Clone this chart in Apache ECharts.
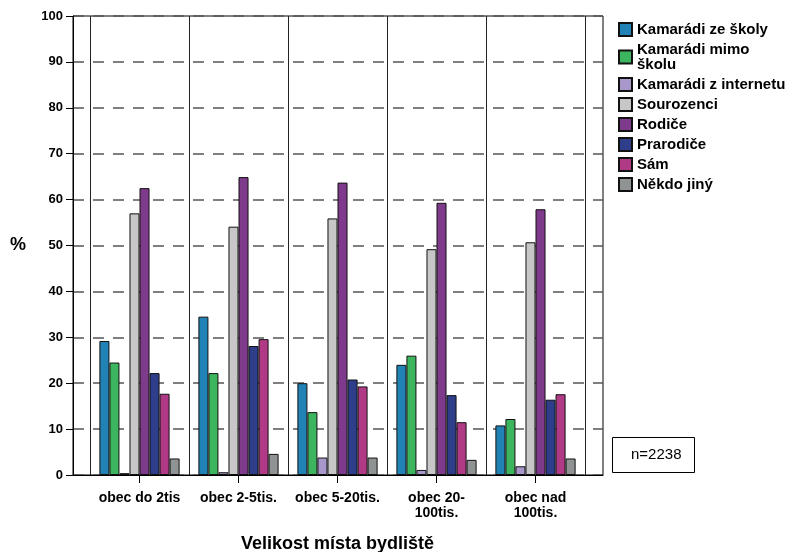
<!DOCTYPE html>
<html>
<head>
<meta charset="utf-8">
<script src="https://cdn.jsdelivr.net/npm/echarts@6/dist/echarts.min.js"></script>
<style>html,body{margin:0;padding:0;background:#fff}#c{width:787px;height:552px}</style>
</head>
<body>
<div id="c"></div>
<script>
const categories = ['obec do 2tis', 'obec 2-5tis.', 'obec 5-20tis.', 'obec 20-\n100tis.', 'obec nad\n100tis.'];
const seriesNames = ['Kamarádi ze školy', 'Kamarádi mimo školu', 'Kamarádi z internetu', 'Sourozenci', 'Rodiče', 'Prarodiče', 'Sám', 'Někdo jiný'];
const seriesColors = ['#2183b5', '#3db45e', '#a897cb', '#c6c7c6', '#7e3a8b', '#2e3e8a', '#b13a87', '#8f9393'];
const kamaradiZeSkoly = [29.2, 34.5, 20.0, 24.0, 10.8];
const kamaradiMimoSkolu = [24.5, 22.2, 13.7, 26.0, 12.2];
const kamaradiZInternetu = [0.4, 0.6, 3.8, 1.1, 1.9];
const sourozenci = [57.0, 54.1, 55.9, 49.2, 50.7];
const rodice = [62.5, 64.9, 63.7, 59.3, 57.9];
const prarodice = [22.2, 28.1, 20.8, 17.4, 16.4];
const sam = [17.7, 29.6, 19.3, 11.5, 17.6];
const nekdoJiny = [3.6, 4.6, 3.8, 3.3, 3.6];
const yTicks = [0, 100, 10];
const nLabel = 'n=2238';
const xTitle = 'Velikost místa bydliště';
const yTitle = '%';

const allValues = [kamaradiZeSkoly, kamaradiMimoSkolu, kamaradiZInternetu, sourozenci, rodice, prarodice, sam, nekdoJiny];
const FONT = 'Liberation Sans, Arial, Helvetica, sans-serif';

const chart = echarts.init(document.getElementById('c'), null, {renderer: 'canvas'});
chart.setOption({
  animation: false,
  backgroundColor: '#fff',
  grid: [
    {left: 73, right: 184, top: 16, bottom: 77, show: true, borderColor: '#000', borderWidth: 1, backgroundColor: 'transparent', containLabel: false, outerBoundsMode: 'none'},
    {left: 90, right: 202, top: 16, bottom: 77, containLabel: false, outerBoundsMode: 'none'}
  ],
  xAxis: [
    {gridIndex: 0, type: 'value', min: 0, max: 1, axisLine: {show: true, lineStyle: {color: '#000', width: 1}}, axisTick: {show: false}, axisLabel: {show: false}, splitLine: {show: false}},
    {gridIndex: 1, type: 'category', data: categories,
      axisLine: {show: false},
      axisTick: {show: true, alignWithLabel: true, length: 8, lineStyle: {color: '#000', width: 1}},
      axisLabel: {interval: 0, margin: 16, color: '#000', fontFamily: FONT, fontWeight: 'bold', fontSize: 14, lineHeight: 15},
      splitLine: {show: true, interval: 0, lineStyle: {color: '#222', width: 1, type: 'solid'}},
      name: xTitle, nameLocation: 'middle', nameGap: 60,
      nameTextStyle: {color: '#000', fontFamily: FONT, fontWeight: 'bold', fontSize: 18}
    }
  ],
  yAxis: [
    {gridIndex: 0, type: 'value', min: yTicks[0], max: yTicks[1], interval: yTicks[2],
      axisLine: {show: true, lineStyle: {color: '#000', width: 1}},
      axisTick: {show: true, length: 7, lineStyle: {color: '#000', width: 1}},
      axisLabel: {color: '#000', fontFamily: FONT, fontWeight: 'bold', fontSize: 13, margin: 10},
      splitLine: {show: true, lineStyle: {color: '#555', width: 1.6, type: [11, 9]}},
      name: yTitle, nameLocation: 'middle', nameRotate: 0, nameGap: 47,
      nameTextStyle: {color: '#000', fontFamily: FONT, fontWeight: 'bold', fontSize: 18, padding: [4, 0, 0, 0]}
    },
    {gridIndex: 1, type: 'value', min: yTicks[0], max: yTicks[1], show: false, splitLine: {show: false}}
  ],
  legend: {
    orient: 'vertical', left: 613, top: 17, itemWidth: 13, itemHeight: 13, itemGap: 5,
    icon: 'rect',
    formatter: function (n) { return n === 'Kamarádi mimo školu' ? 'Kamarádi mimo\nškolu' : n; },
    textStyle: {color: '#000', fontFamily: FONT, fontWeight: 'bold', fontSize: 15, lineHeight: 15},
    data: seriesNames
  },
  series: seriesNames.map(function (name, i) {
    return {
      name: name, type: 'bar', xAxisIndex: 1, yAxisIndex: 1,
      data: allValues[i], barGap: '0%', barCategoryGap: '19%',
      itemStyle: {color: seriesColors[i], borderColor: '#111', borderWidth: 1},
      z: 3
    };
  }),
  graphic: [
    {type: 'rect', left: 612, top: 437, shape: {width: 82, height: 35}, style: {fill: '#fff', stroke: '#000', lineWidth: 1}},
    {type: 'text', left: 631, top: 447, style: {text: nLabel, fill: '#000', font: '15px ' + FONT}}
  ]
});
</script>
</body>
</html>
